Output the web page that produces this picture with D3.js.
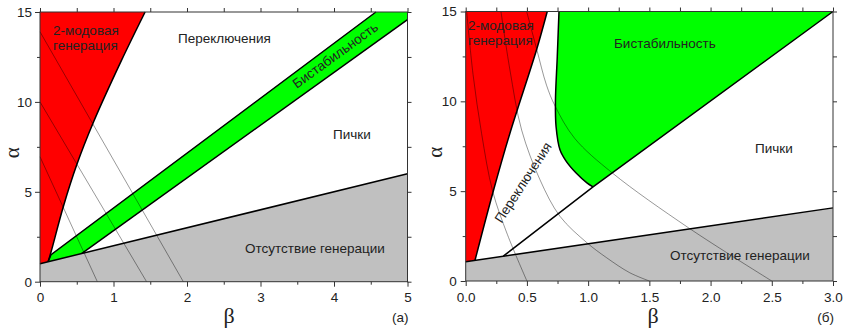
<!DOCTYPE html>
<html>
<head>
<meta charset="utf-8" />
<style>
body { margin: 0; background: #fff; }
svg { display: block; }
text { font-family: "Liberation Sans", Arial, sans-serif; fill: #222; }
.greek { font-family: "Liberation Serif", "Times New Roman", serif; }
.axis path { display: none; }
.axis line { stroke: #333; }
</style>
<script src="https://cdn.jsdelivr.net/npm/d3@7/dist/d3.min.js"></script>
</head>
<body>
<div id="chart"></div>
<script>
// ---------- panel (a): beta 0..5 ----------
var aXMajor = [0, 1, 2, 3, 4, 5];
var aXMinor = [0.5, 1.5, 2.5, 3.5, 4.5];
var aXLabels = ["0", "1", "2", "3", "4", "5"];
var yMajor = [0, 5, 10, 15];
var yMinor = [2.5, 7.5, 12.5];

// region boundaries, [beta, alpha]
var aGrayEdge = [[0, 1], [5, 6]];
var aRedEdge = [[0.11, 1.11], [0.15, 1.65], [0.317, 4.17], [0.5, 6.5], [0.725, 8.85], [1.11, 12.32], [1.43, 15]];
var aGreenUpper = [[0.11, 1.11], [0.15, 1.5], [4.57, 15]];
var aGreenLower = [[0.57, 1.57], [5, 14.58]];
// thin level lines
var aLines = [
  [[0, 6.95], [0.78, 0]],
  [[0, 10], [1.45, 0]],
  [[0, 13.9], [1.95, 0]]
];

// ---------- panel (б): beta 0..3 ----------
var bXMajor = [0, 0.5, 1, 1.5, 2, 2.5, 3];
var bXMinor = [0.25, 0.75, 1.25, 1.75, 2.25, 2.75];
var bXLabels = ["0.0", "0.5", "1.0", "1.5", "2.0", "2.5", "3.0"];

var bGrayEdge = [[0, 1.07], [3, 4.07]];
var bRedEdge = [[0.076, 1.15], [0.22, 4.87], [0.36, 8.2], [0.58, 12.9], [0.666, 15]];
var bSwitchEdge = [[0.307, 1.38], [1.04, 5.24], [3, 15]];
var bGreenLeft = [[0.762, 15], [0.748, 12.5], [0.733, 10], [0.738, 8.6], [0.77, 7.3], [0.82, 6.67], [0.9, 6.02], [0.99, 5.46], [1.04, 5.24]];
var bCurves = [
  [[0.008, 15], [0.06, 11.5], [0.13, 8.2], [0.22, 5.0], [0.34, 2.6], [0.5, 0]],
  [[0.288, 15], [0.36, 11.8], [0.457, 8.4], [0.607, 5.63], [0.77, 3.6], [0.99, 2.13], [1.15, 1.3], [1.34, 0.46], [1.5, 0]],
  [[0.498, 15], [0.58, 12.9], [0.66, 10.9], [0.73, 9.74], [0.89, 7.94], [1.2, 6.0], [1.82, 2.96], [2.5, 0]]
];

var svg = d3.select("#chart").append("svg")
  .attr("width", 846)
  .attr("height", 330);

function drawPanel(p) {
  var x = d3.scaleLinear().domain(p.xDomain).range(p.xRange);
  var y = d3.scaleLinear().domain([0, 15]).range(p.yRange);
  var g = svg.append("g");

  var lin = d3.line().x(function(d) { return x(d[0]); }).y(function(d) { return y(d[1]); });
  var smooth = d3.line().x(function(d) { return x(d[0]); }).y(function(d) { return y(d[1]); })
    .curve(d3.curveCatmullRom.alpha(0.5));

  // join segments into one closed shape
  function polyPath(segs) {
    return segs.map(function(s, i) {
      var d = (s.smooth ? smooth : lin)(s.pts);
      return i ? "L" + d.slice(1) : d;
    }).join("") + "Z";
  }

  p.regions.forEach(function(r) {
    g.append("path").attr("d", polyPath(r.segs)).attr("fill", r.color).attr("stroke", "none");
  });

  p.thin.forEach(function(c) {
    g.append("path").attr("d", (c.length > 2 ? smooth : lin)(c))
      .attr("fill", "none").attr("stroke", "#000").attr("stroke-opacity", 0.45).attr("stroke-width", 0.9);
  });

  p.edges.forEach(function(e) {
    g.append("path").attr("d", (e.smooth ? smooth : lin)(e.pts))
      .attr("fill", "none").attr("stroke", "#000").attr("stroke-width", 1.5);
  });

  // frame
  g.append("rect")
    .attr("x", p.xRange[0]).attr("y", p.yRange[1])
    .attr("width", p.xRange[1] - p.xRange[0]).attr("height", p.yRange[0] - p.yRange[1])
    .attr("fill", "none").attr("stroke", "#333").attr("stroke-width", 1);

  var bottom = p.yRange[0], top = p.yRange[1], left = p.xRange[0], right = p.xRange[1];

  g.append("g").attr("class", "axis").attr("transform", "translate(0," + bottom + ")")
    .call(d3.axisBottom(x).tickValues(p.xMajor).tickSize(5).tickPadding(6)
      .tickFormat(function(d, i) { return p.xLabels[i]; }))
    .selectAll("text").attr("font-size", 13.5).attr("font-family", null);
  g.append("g").attr("class", "axis").attr("transform", "translate(0," + bottom + ")")
    .call(d3.axisBottom(x).tickValues(p.xMinor).tickSize(3).tickFormat(""));
  g.append("g").attr("class", "axis").attr("transform", "translate(0," + top + ")")
    .call(d3.axisTop(x).tickValues(p.xMajor.concat(p.xMinor)).tickSize(4).tickFormat(""));

  g.append("g").attr("class", "axis").attr("transform", "translate(" + left + ",0)")
    .call(d3.axisLeft(y).tickValues(yMajor).tickSize(5).tickPadding(p.yPad))
    .selectAll("text").attr("font-size", 13.5).attr("font-family", null);
  g.append("g").attr("class", "axis").attr("transform", "translate(" + left + ",0)")
    .call(d3.axisLeft(y).tickValues(yMinor).tickSize(3).tickFormat(""));
  g.append("g").attr("class", "axis").attr("transform", "translate(" + right + ",0)")
    .call(d3.axisRight(y).tickValues(yMajor.concat(yMinor)).tickSize(4).tickFormat(""));

  g.selectAll(".axis text").attr("fill", "#222");

  // region labels
  p.labels.forEach(function(l) {
    var t = g.append("text")
      .attr("transform", "translate(" + l.x + "," + l.y + ")" + (l.rot ? " rotate(" + l.rot + ")" : ""))
      .attr("text-anchor", l.anchor || "start")
      .attr("font-size", 13.5);
    l.text.split("\n").forEach(function(line, i) {
      t.append("tspan").attr("x", 0).attr("dy", i ? 15 : 0).text(line);
    });
  });

  // axis titles
  g.append("text").attr("class", "greek")
    .attr("transform", "translate(" + p.alphaX + "," + ((top + bottom) / 2 + 6) + ") rotate(-90)")
    .attr("text-anchor", "middle").attr("font-size", 21).text("α");
  g.append("text").attr("class", "greek")
    .attr("x", p.betaX).attr("y", 323)
    .attr("text-anchor", "middle").attr("font-size", 22).text("β");
  g.append("text")
    .attr("x", right + 1).attr("y", 322)
    .attr("text-anchor", "end").attr("font-size", 13.5).text(p.tag);
}

drawPanel({
  xDomain: [0, 5], xRange: [40, 407.5], yRange: [281.7, 12],
  xMajor: aXMajor, xMinor: aXMinor, xLabels: aXLabels, yPad: 3,
  regions: [
    { color: "#c0c0c0", segs: [{ pts: [[0, 0]].concat(aGrayEdge).concat([[5, 0]]) }] },
    { color: "#ff0000", segs: [{ pts: [[0, 1], [0, 15]] }, { pts: aRedEdge.slice().reverse(), smooth: true }] },
    { color: "#00ff00", segs: [{ pts: aGreenUpper }, { pts: [[5, 15], [5, 14.58]] }, { pts: aGreenLower.slice().reverse() }] }
  ],
  thin: aLines,
  edges: [
    { pts: aGrayEdge }, { pts: aRedEdge, smooth: true }, { pts: aGreenUpper }, { pts: aGreenLower }
  ],
  labels: [
    { text: "2-модовая\nгенерация", x: 53, y: 35 },
    { text: "Переключения", x: 178, y: 43 },
    { text: "Бистабильность", x: 338, y: 59, rot: -36, anchor: "middle" },
    { text: "Пички", x: 333, y: 139 },
    { text: "Отсутствие генерации", x: 245, y: 253 }
  ],
  alphaX: 19, betaX: 229, tag: "(а)"
});

drawPanel({
  xDomain: [0, 3], xRange: [465.7, 833], yRange: [281, 11.5],
  xMajor: bXMajor, xMinor: bXMinor, xLabels: bXLabels, yPad: 4,
  regions: [
    { color: "#c0c0c0", segs: [{ pts: [[0, 0]].concat(bGrayEdge).concat([[3, 0]]) }] },
    { color: "#ff0000", segs: [{ pts: [[0, 1.07], [0, 15]] }, { pts: bRedEdge.slice().reverse(), smooth: true }] },
    { color: "#00ff00", segs: [{ pts: bGreenLeft, smooth: true }, { pts: [[3, 15]] }] }
  ],
  thin: bCurves,
  edges: [
    { pts: bGrayEdge }, { pts: bRedEdge, smooth: true }, { pts: bSwitchEdge }, { pts: bGreenLeft, smooth: true }
  ],
  labels: [
    { text: "2-модовая\nгенерация", x: 468, y: 30 },
    { text: "Бистабильность", x: 614, y: 48 },
    { text: "Пички", x: 755, y: 153 },
    { text: "Отсутствие генерации", x: 670, y: 260 },
    { text: "Переключения", x: 527, y: 185, rot: -57, anchor: "middle" }
  ],
  alphaX: 442, betaX: 653, tag: "(б)"
});
</script>
</body>
</html>
